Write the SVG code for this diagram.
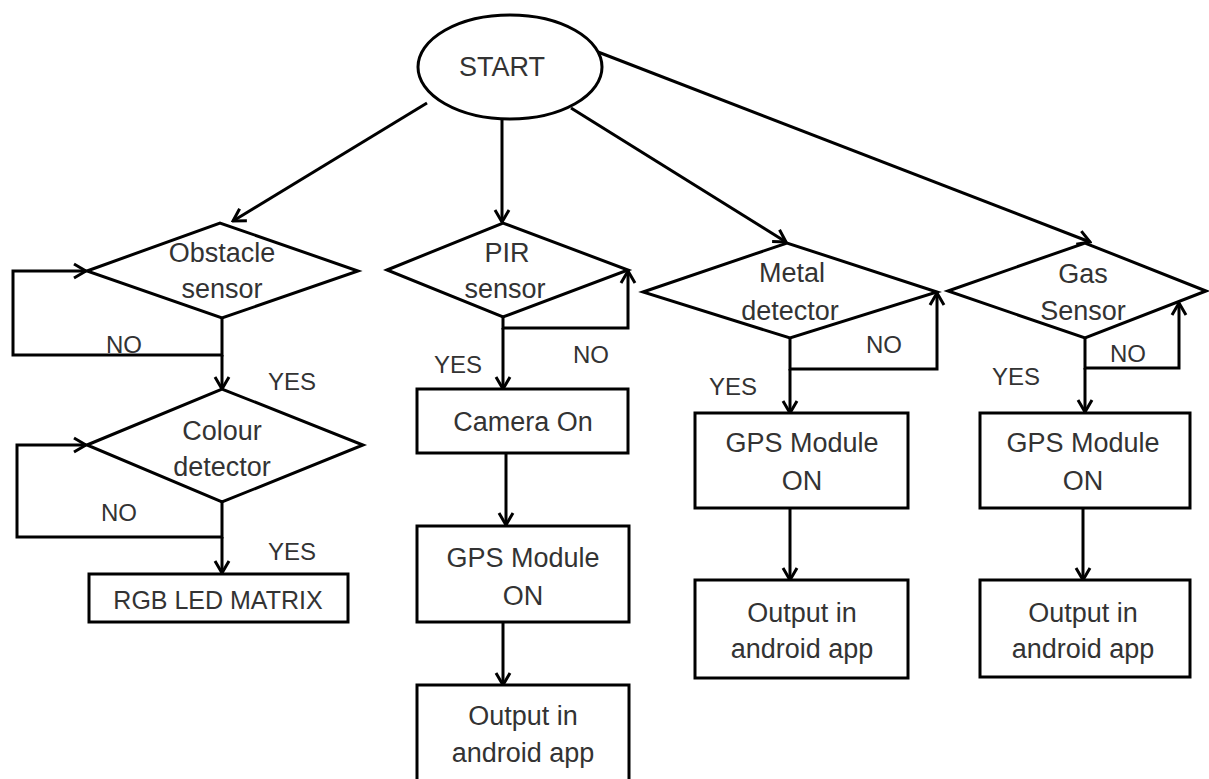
<svg xmlns="http://www.w3.org/2000/svg" width="1209" height="779" viewBox="0 0 1209 779">
<defs>
<marker id="ah" markerUnits="userSpaceOnUse" markerWidth="20" markerHeight="20" viewBox="0 0 20 20" refX="18" refY="10" orient="auto">
<path d="M6,3 L18,10 L6,17" fill="none" stroke="#000" stroke-width="3" stroke-linejoin="miter"/>
</marker>
<style>
.s{fill:#fff;stroke:#000;stroke-width:3}
.t{font-family:"Liberation Sans",Arial,sans-serif;font-size:27px;fill:#333;text-anchor:middle}
.l{font-family:"Liberation Sans",Arial,sans-serif;font-size:24px;fill:#333}
.c{fill:none;stroke:#000;stroke-width:3}
</style>
</defs>
<rect width="1209" height="779" fill="#fff"/>
<g id="connectors">
<line class="c" x1="427" y1="103" x2="233" y2="221" marker-end="url(#ah)"/>
<line class="c" x1="502" y1="119" x2="502" y2="222" marker-end="url(#ah)"/>
<line class="c" x1="571" y1="108" x2="786" y2="242" marker-end="url(#ah)"/>
<line class="c" x1="598" y1="52" x2="1090" y2="242" marker-end="url(#ah)"/>
<polyline class="c" points="222,318 222,355 13,355 13,271 86,271" marker-end="url(#ah)"/>
<line class="c" x1="222" y1="355" x2="222" y2="389" marker-end="url(#ah)"/>
<polyline class="c" points="222,502 222,537 17,537 17,445 86,445" marker-end="url(#ah)"/>
<line class="c" x1="222" y1="537" x2="222" y2="573" marker-end="url(#ah)"/>
<polyline class="c" points="503,317 503,328 628,328 628,271" marker-end="url(#ah)"/>
<line class="c" x1="503" y1="328" x2="503" y2="389" marker-end="url(#ah)"/>
<line class="c" x1="506" y1="453" x2="506" y2="525" marker-end="url(#ah)"/>
<line class="c" x1="503" y1="622" x2="503" y2="685" marker-end="url(#ah)"/>
<polyline class="c" points="790,338 790,369 937,369 937,293" marker-end="url(#ah)"/>
<line class="c" x1="790" y1="369" x2="790" y2="413" marker-end="url(#ah)"/>
<line class="c" x1="790" y1="508" x2="790" y2="580" marker-end="url(#ah)"/>
<polyline class="c" points="1085,338 1085,368 1179,368 1179,303" marker-end="url(#ah)"/>
<line class="c" x1="1085" y1="368" x2="1085" y2="412" marker-end="url(#ah)"/>
<line class="c" x1="1083" y1="508" x2="1083" y2="580" marker-end="url(#ah)"/>
</g>
<g id="start">
<ellipse class="s" cx="510" cy="67" rx="92" ry="52"/>
<text class="t" x="502" y="76">START</text>
</g>
<g id="obstacle">
<polygon class="s" points="87,271 220,223 358,271 222,318"/>
<text class="t" x="222" y="262">Obstacle</text>
<text class="t" x="222" y="298">sensor</text>
</g>
<g id="colour">
<polygon class="s" points="87,445 222,389 363,445 222,502"/>
<text class="t" x="222" y="440">Colour</text>
<text class="t" x="222" y="476">detector</text>
</g>
<g id="rgb">
<rect class="s" x="89" y="574" width="259" height="48"/>
<text class="t" x="218" y="609" style="font-size:25px">RGB LED MATRIX</text>
</g>
<g id="pir">
<polygon class="s" points="387,270 503,223 628,270 503,317"/>
<text class="t" x="507" y="262">PIR</text>
<text class="t" x="505" y="298">sensor</text>
</g>
<g id="camera">
<rect class="s" x="417" y="389" width="211" height="64"/>
<text class="t" x="523" y="431">Camera On</text>
</g>
<g id="gps1">
<rect class="s" x="417" y="526" width="212" height="96"/>
<text class="t" x="523" y="567">GPS Module</text>
<text class="t" x="523" y="605">ON</text>
</g>
<g id="out1">
<rect class="s" x="417" y="685" width="212" height="100"/>
<text class="t" x="523" y="725">Output in</text>
<text class="t" x="523" y="762">android app</text>
</g>
<g id="metal">
<polygon class="s" points="643,292 787,243 937,292 790,338"/>
<text class="t" x="792" y="282">Metal</text>
<text class="t" x="790" y="320">detector</text>
</g>
<g id="gps2">
<rect class="s" x="695" y="413" width="213" height="95"/>
<text class="t" x="802" y="452">GPS Module</text>
<text class="t" x="802" y="490">ON</text>
</g>
<g id="out2">
<rect class="s" x="695" y="580" width="213" height="98"/>
<text class="t" x="802" y="622">Output in</text>
<text class="t" x="802" y="658">android app</text>
</g>
<g id="gas">
<polygon class="s" points="948,291 1085,243 1206,291 1085,338"/>
<text class="t" x="1083" y="283">Gas</text>
<text class="t" x="1083" y="320">Sensor</text>
</g>
<g id="gps3">
<rect class="s" x="980" y="413" width="210" height="95"/>
<text class="t" x="1083" y="452">GPS Module</text>
<text class="t" x="1083" y="490">ON</text>
</g>
<g id="out3">
<rect class="s" x="980" y="580" width="210" height="97"/>
<text class="t" x="1083" y="622">Output in</text>
<text class="t" x="1083" y="658">android app</text>
</g>
<g id="labels">
<text class="l" x="106" y="353">NO</text>
<text class="l" x="268" y="390">YES</text>
<text class="l" x="101" y="521">NO</text>
<text class="l" x="268" y="560">YES</text>
<text class="l" x="573" y="363">NO</text>
<text class="l" x="434" y="373">YES</text>
<text class="l" x="866" y="353">NO</text>
<text class="l" x="709" y="395">YES</text>
<text class="l" x="1110" y="362">NO</text>
<text class="l" x="992" y="385">YES</text>
</g>
</svg>
